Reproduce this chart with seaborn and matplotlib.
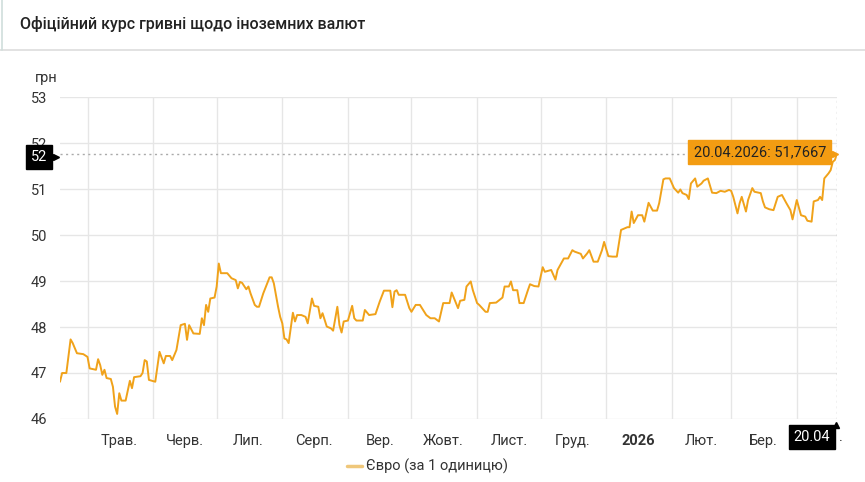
import pandas as pd
import matplotlib.pyplot as plt
import seaborn as sns

# -----------------------------
# Дані: офіційний курс євро (грн за 1 одиницю)
# -----------------------------
dates = [
    "2025-04-18", "2025-04-19", "2025-04-21", "2025-04-23", "2025-04-24", "2025-04-26", "2025-04-29",
    "2025-05-01", "2025-05-02", "2025-05-05", "2025-05-06", "2025-05-07", "2025-05-08", "2025-05-09",
    "2025-05-10", "2025-05-12", "2025-05-13", "2025-05-14", "2025-05-15", "2025-05-16", "2025-05-17",
    "2025-05-19", "2025-05-21", "2025-05-22", "2025-05-23", "2025-05-26", "2025-05-27", "2025-05-28",
    "2025-05-29", "2025-05-30", "2025-06-02", "2025-06-04", "2025-06-06", "2025-06-07", "2025-06-09",
    "2025-06-10", "2025-06-12", "2025-06-14", "2025-06-16", "2025-06-17", "2025-06-18", "2025-06-20",
    "2025-06-23", "2025-06-24", "2025-06-25", "2025-06-26", "2025-06-27", "2025-06-28", "2025-06-30",
    "2025-07-01", "2025-07-02", "2025-07-03", "2025-07-06", "2025-07-08", "2025-07-10", "2025-07-11",
    "2025-07-12", "2025-07-13", "2025-07-15", "2025-07-16", "2025-07-17", "2025-07-19", "2025-07-20",
    "2025-07-21", "2025-07-23", "2025-07-26", "2025-07-27", "2025-07-28", "2025-07-30", "2025-07-31",
    "2025-08-01", "2025-08-02", "2025-08-03", "2025-08-04", "2025-08-06", "2025-08-07", "2025-08-08",
    "2025-08-10", "2025-08-12", "2025-08-13", "2025-08-15", "2025-08-16", "2025-08-18", "2025-08-19",
    "2025-08-20", "2025-08-22", "2025-08-24", "2025-08-25", "2025-08-27", "2025-08-28", "2025-08-29",
    "2025-08-30", "2025-09-01", "2025-09-03", "2025-09-04", "2025-09-05", "2025-09-08", "2025-09-09",
    "2025-09-11", "2025-09-14", "2025-09-16", "2025-09-18", "2025-09-21", "2025-09-22", "2025-09-23",
    "2025-09-24", "2025-09-25", "2025-09-28", "2025-09-30", "2025-10-01", "2025-10-03", "2025-10-05",
    "2025-10-08", "2025-10-10", "2025-10-12", "2025-10-14", "2025-10-16", "2025-10-19", "2025-10-20",
    "2025-10-23", "2025-10-24", "2025-10-26", "2025-10-27", "2025-10-29", "2025-10-30", "2025-11-01",
    "2025-11-02", "2025-11-05", "2025-11-06", "2025-11-07", "2025-11-10", "2025-11-13", "2025-11-14",
    "2025-11-16", "2025-11-17", "2025-11-18", "2025-11-20", "2025-11-21", "2025-11-23", "2025-11-25",
    "2025-11-26", "2025-11-28", "2025-11-30", "2025-12-02", "2025-12-03", "2025-12-06", "2025-12-08",
    "2025-12-09", "2025-12-12", "2025-12-14", "2025-12-16", "2025-12-17", "2025-12-20", "2025-12-21",
    "2025-12-23", "2025-12-24", "2025-12-26", "2025-12-28", "2025-12-30", "2025-12-31", "2026-01-02",
    "2026-01-04", "2026-01-06", "2026-01-07", "2026-01-08", "2026-01-11", "2026-01-12", "2026-01-13",
    "2026-01-14", "2026-01-16", "2026-01-18", "2026-01-19", "2026-01-21", "2026-01-23", "2026-01-25",
    "2026-01-26", "2026-01-28", "2026-01-29", "2026-01-31", "2026-02-02", "2026-02-04", "2026-02-05",
    "2026-02-06", "2026-02-08", "2026-02-09", "2026-02-10", "2026-02-12", "2026-02-13", "2026-02-15",
    "2026-02-16", "2026-02-18", "2026-02-20", "2026-02-22", "2026-02-24", "2026-02-26", "2026-02-28",
    "2026-03-01", "2026-03-02", "2026-03-04", "2026-03-05", "2026-03-06", "2026-03-08", "2026-03-09",
    "2026-03-11", "2026-03-12", "2026-03-15", "2026-03-16", "2026-03-17", "2026-03-19", "2026-03-21",
    "2026-03-23", "2026-03-25", "2026-03-27", "2026-03-29", "2026-03-30", "2026-04-01", "2026-04-03",
    "2026-04-05", "2026-04-06", "2026-04-08", "2026-04-09", "2026-04-11", "2026-04-12", "2026-04-13",
    "2026-04-14", "2026-04-16", "2026-04-17", "2026-04-18", "2026-04-19", "2026-04-20",
]
eur = [
    46.81, 47.00, 47.00, 47.73, 47.65, 47.43, 47.41,
    47.35, 47.10, 47.07, 47.30, 47.17, 46.96, 47.07,
    46.89, 46.87, 46.70, 46.27, 46.11, 46.56, 46.40,
    46.40, 46.83, 46.67, 46.91, 46.93, 47.00, 47.28,
    47.25, 46.85, 46.81, 47.46, 47.21, 47.37, 47.37,
    47.28, 47.50, 48.04, 48.07, 47.72, 48.04, 47.86,
    47.85, 48.19, 48.04, 48.48, 48.33, 48.62, 48.64,
    48.88, 49.38, 49.17, 49.17, 49.06, 49.02, 48.84,
    48.98, 48.96, 48.82, 48.88, 48.73, 48.48, 48.44,
    48.44, 48.73, 49.08, 49.08, 48.95, 48.44, 48.22,
    48.08, 47.75, 47.73, 47.65, 48.31, 48.12, 48.26,
    48.26, 48.22, 48.08, 48.62, 48.46, 48.44, 48.19,
    48.30, 48.01, 47.97, 47.92, 48.44, 48.04, 47.88,
    48.12, 48.14, 48.46, 48.19, 48.14, 48.14, 48.37,
    48.26, 48.28, 48.55, 48.79, 48.79, 48.43, 48.77,
    48.80, 48.70, 48.70, 48.41, 48.33, 48.48, 48.48,
    48.26, 48.19, 48.19, 48.12, 48.52, 48.52, 48.75,
    48.41, 48.57, 48.59, 48.88, 48.99, 48.80, 48.52,
    48.48, 48.33, 48.33, 48.52, 48.53, 48.64, 48.88,
    48.88, 48.99, 48.80, 48.80, 48.52, 48.52, 48.80,
    48.93, 48.89, 48.88, 49.30, 49.20, 49.24, 49.03,
    49.24, 49.49, 49.49, 49.67, 49.64, 49.59, 49.49,
    49.60, 49.67, 49.42, 49.42, 49.67, 49.85, 49.54,
    49.53, 49.53, 49.82, 50.11, 50.17, 50.17, 50.51,
    50.26, 50.43, 50.43, 50.29, 50.70, 50.53, 50.53,
    50.69, 51.21, 51.23, 51.23, 51.02, 50.92, 50.99,
    50.91, 50.87, 50.78, 51.12, 51.23, 51.05, 51.12,
    51.18, 51.23, 50.92, 50.91, 50.96, 50.94, 50.98,
    50.96, 50.83, 50.47, 50.69, 50.83, 50.51, 50.76,
    51.02, 50.94, 50.91, 50.73, 50.60, 50.56, 50.54,
    50.83, 50.87, 50.70, 50.54, 50.34, 50.76, 50.43,
    50.40, 50.31, 50.29, 50.73, 50.76, 50.83, 50.76,
    51.23, 51.34, 51.41, 51.59, 51.63, 51.7667,
]

month_starts = ["2025-05-01", "2025-06-01", "2025-07-01", "2025-08-01", "2025-09-01", "2025-10-01",
                "2025-11-01", "2025-12-01", "2026-01-01", "2026-02-01", "2026-03-01", "2026-04-01"]
month_label_dates = ["2025-05-16", "2025-06-16", "2025-07-16", "2025-08-16", "2025-09-16", "2025-10-16",
                     "2025-11-16", "2025-12-16", "2026-01-16", "2026-02-15", "2026-03-16"]
month_labels = ["Трав.", "Черв.", "Лип.", "Серп.", "Вер.", "Жовт.",
                "Лист.", "Груд.", "2026", "Лют.", "Бер."]
y_ticks = [46, 47, 48, 49, 50, 51, 52, 53]

last_date = "2026-04-20"
last_value = 51.7667
series_name = "Євро (за 1 одиницю)"

df = pd.DataFrame({"date": pd.to_datetime(dates), "value": eur})

sns.set_theme(style="white")
plt.rcParams["font.family"] = ["Roboto", "DejaVu Sans"]

line_color = "#f0a21a"
grid_color = "#e6e6e6"
text_color = "#333333"

fig = plt.figure(figsize=(8.65, 4.82), dpi=100)
ax = fig.add_axes([60 / 865, 1 - 419 / 482, 777 / 865, 322 / 482])

sns.lineplot(data=df, x="date", y="value", ax=ax, color=line_color, linewidth=1.4)

ax.set_xlim(pd.Timestamp(dates[0]), pd.Timestamp(last_date))
ax.set_ylim(46, 53)
ax.set_xlabel("")
ax.set_ylabel("")
for s in ax.spines.values():
    s.set_visible(False)

# сітка
ax.set_yticks(y_ticks)
ax.set_yticklabels([str(v) for v in y_ticks], fontsize=10.5, color=text_color)
ax.set_xticks(pd.to_datetime(month_starts))
ax.set_xticklabels([])
ax.set_xticks(pd.to_datetime(month_label_dates), minor=True)
ax.set_xticklabels(month_labels, minor=True, fontsize=10.5, color=text_color)
ax.tick_params(axis="x", which="both", length=0, pad=11)
ax.tick_params(axis="y", length=0, pad=9)
for lbl in ax.get_xticklabels(minor=True):
    if lbl.get_text() == "2026":
        lbl.set_fontweight("bold")
ax.grid(True, which="major", axis="both", color=grid_color, linewidth=1)
ax.set_axisbelow(True)

# перехрестя
ax.axhline(last_value, color="#aaaaaa", linestyle=(0, (1.5, 2.5)), linewidth=1)
ax.axvline(pd.Timestamp(last_date), color="#bbbbbb", linestyle=(0, (1.5, 2.5)), linewidth=1)

# підказка
ax.annotate(f"20.04.2026: {str(last_value).replace('.', ',')}",
            xy=(pd.Timestamp(last_date), last_value), xytext=(-8, 1), textcoords="offset points",
            ha="right", va="center", fontsize=10.5, color="#222222",
            bbox=dict(boxstyle="square,pad=0.35", fc="#f39c12", ec="#f39c12"))
fig.add_artist(plt.Line2D([835 / 865], [1 - 154 / 482], marker=">", markersize=5,
                          color="#f39c12", linestyle="none"))

# мітки-значки на осях
fig.text(39 / 865, 1 - 157 / 482, "52", ha="center", va="center", fontsize=10.5, color="white",
         bbox=dict(boxstyle="square,pad=0.32", fc="black", ec="black"))
fig.add_artist(plt.Line2D([56 / 865], [1 - 157 / 482], marker=">", markersize=5,
                          color="black", linestyle="none"))
fig.text(812 / 865, 1 - 437 / 482, "20.04", ha="center", va="center", fontsize=10.5, color="white",
         bbox=dict(boxstyle="square,pad=0.32", fc="black", ec="black"))
fig.add_artist(plt.Line2D([836 / 865], [1 - 425 / 482], marker="^", markersize=5,
                          color="black", linestyle="none"))
fig.text(841 / 865, 1 - 437 / 482, ".", ha="center", va="center", fontsize=10.5, color=text_color)

# заголовок і підписи
fig.text(20 / 865, 1 - 24 / 482, "Офіційний курс гривні щодо іноземних валют",
         ha="left", va="center", fontsize=11.5, fontweight="medium", color="#222222")
fig.add_artist(plt.Line2D([0, 1], [1 - 50 / 482, 1 - 50 / 482], color="#dddddd", linewidth=1.2))
fig.add_artist(plt.Line2D([2 / 865, 2 / 865], [1 - 50 / 482, 1], color="#cfdedb", linewidth=1.2))
fig.text(35 / 865, 1 - 78 / 482, "грн", ha="left", va="center", fontsize=10.5, color=text_color)

# легенда
fig.add_artist(plt.Line2D([347 / 865, 362 / 865], [1 - 466 / 482, 1 - 466 / 482],
                          color="#efc77a", linewidth=2.5))
fig.text(366 / 865, 1 - 466 / 482, series_name, ha="left", va="center", fontsize=10.5, color=text_color)

fig.savefig("out.png", dpi=100)
plt.close(fig)
print("[OK] out.png")
